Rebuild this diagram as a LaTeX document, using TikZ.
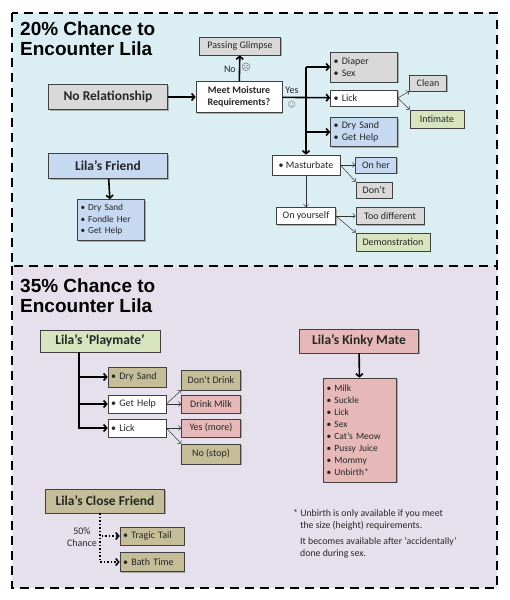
\documentclass[tikz,border=0pt]{standalone}
\usepackage{fontspec}
\setmainfont{Carlito}
\newfontfamily\titlefont{Liberation Sans}
\newfontfamily\symfont{DejaVu Sans}
\usetikzlibrary{arrows.meta,shadows}

\definecolor{topbg}{RGB}{219,238,244}
\definecolor{botbg}{RGB}{229,224,236}
\definecolor{grayb}{RGB}{217,217,217}
\definecolor{blueb}{RGB}{198,217,241}
\definecolor{greenb}{RGB}{215,228,189}
\definecolor{tanb}{RGB}{196,189,151}
\definecolor{pinkb}{RGB}{230,185,184}

\begin{document}
\begin{tikzpicture}[x=1pt,y=-1pt]
\tikzstyle{every node}+=[inner sep=3pt, text=black!85]
\tikzstyle{box}=[draw=black!75, line width=0.6pt, align=center,
  drop shadow={shadow xshift=1.3pt, shadow yshift=-1.3pt, fill=black!50, opacity=0.6},
  font=\fontsize{10}{12}\selectfont]
\tikzstyle{headbox}=[box, font=\fontsize{13.5}{15}\selectfont\bfseries]
\tikzstyle{listbox}=[box, align=left]
\tikzstyle{title}=[anchor=north west, align=left, inner sep=0pt, text=black,
  font=\titlefont\fontsize{19}{20}\selectfont\bfseries]
\tikzstyle{fat}=[line width=1.6pt, -{Straight Barb[length=3pt,width=7pt]}]
\tikzstyle{thinarrow}=[line width=0.5pt, black!80, -{Straight Barb[length=2.5pt,width=5pt]}]
\tikzstyle{dotarrow}=[line width=1.5pt, dotted, -{Straight Barb[length=3pt,width=7pt]}]
\tikzstyle{panel}=[line width=2.4pt, dash pattern=on 9pt off 6pt]
\useasboundingbox (0,0) rectangle (510,600);

% panels
\fill[topbg] (12,13) rectangle (497,266);
\fill[botbg] (12,266) rectangle (497,588);
\draw[panel] (12,13) rectangle (497,266);
\draw[panel] (12,266) -- (12,588) -- (497,588) -- (497,266);

% 20% chance
\node[title] (title1) at (20,22) {20\% Chance to\\Encounter Lila};
\node[box, fill=grayb, minimum width=81, minimum height=18] (glimpse) at (240,46) {Passing Glimpse};
\node[headbox, fill=grayb, minimum width=119, minimum height=25] (norel) at (108,97) {No Relationship};
\node[box, fill=white, font=\fontsize{10}{12.5}\selectfont\bfseries, minimum width=86, minimum height=31] (meet) at (239,97) {Meet Moisture\\Requirements?};
\node[listbox, fill=grayb, text width=61, minimum height=30] (diaper) at (364,67) {\textbullet\ Diaper\\\textbullet\ Sex};
\node[listbox, fill=white, text width=61, minimum height=16] (lick) at (364,98) {\textbullet\ Lick};
\node[listbox, fill=blueb, text width=61, minimum height=29] (drysand) at (364,132) {\textbullet\ Dry Sand\\\textbullet\ Get Help};
\node[box, fill=grayb, minimum width=37, minimum height=16] (clean) at (428,83) {Clean};
\node[box, fill=greenb, minimum width=54, minimum height=18] (intimate) at (437,119) {Intimate};
\node[box, fill=white, minimum width=68, minimum height=20] (mast) at (306,165) {\textbullet\ Masturbate};
\node[box, fill=blueb, minimum width=41, minimum height=16] (onher) at (376,165) {On her};
\node[box, fill=grayb, minimum width=36, minimum height=16] (dont) at (374,190) {Don't};
\node[box, fill=white, minimum width=59, minimum height=17] (onyou) at (306,216) {On yourself};
\node[box, fill=grayb, minimum width=68, minimum height=17] (toodiff) at (390,216) {Too different};
\node[box, fill=greenb, minimum width=74, minimum height=18] (demo) at (393,242) {Demonstration};
\node[headbox, fill=blueb, minimum width=119, minimum height=25] (friend) at (108,166) {Lila's Friend};
\node[listbox, fill=blueb, text width=61, minimum height=41, font=\fontsize{9.3}{11.5}\selectfont] (friendlist) at (111,220) {\textbullet\ Dry Sand\\\textbullet\ Fondle Her\\\textbullet\ Get Help};

\coordinate (split) at (306,97);
\draw[fat] (norel) -- (meet);
\draw[fat] (meet) -- (glimpse) node[pos=0.45, left, font=\fontsize{10}{12}\selectfont] (no) {No} node[pos=0.55, right, inner sep=1pt, text=black!60, font=\symfont\fontsize{9}{10}\selectfont] (sad) {☹};
\draw[fat] (meet) -- (lick) node[pos=0.2, above, font=\fontsize{10}{12}\selectfont] (yes) {Yes} node[pos=0.2, below, text=black!50, font=\symfont\fontsize{8}{9}\selectfont] (happy) {☺};
\draw[line width=1.6pt] (split |- diaper.west) -- (split);
\draw[fat] (split |- diaper.west) -- (diaper);
\draw[fat] (split |- drysand.west) -- (drysand);
\draw[fat] (split) -- (mast);
\draw[thinarrow] (lick.east) -- (clean.south west);
\draw[thinarrow] (lick.east) -- (intimate.north west);
\draw[thinarrow] (mast) -- (onher);
\draw[thinarrow] (mast.east) -- (dont.north west);
\draw[thinarrow] (mast) -- (onyou);
\draw[thinarrow] (onyou) -- (toodiff);
\draw[thinarrow] (onyou.east) -- (demo.north west);
\draw[fat] (friend) -- (friendlist);

% 35% chance
\node[title] (title2) at (20,279) {35\% Chance to\\Encounter Lila};
\node[headbox, fill=greenb, minimum width=120, minimum height=22] (playmate) at (100,341) {Lila's `Playmate'};
\node[listbox, fill=tanb, text width=52, minimum height=20] (pdry) at (137,377) {\textbullet\ Dry Sand};
\node[listbox, fill=white, text width=52, minimum height=18] (phelp) at (137,404) {\textbullet\ Get Help};
\node[listbox, fill=white, text width=52, minimum height=18] (plick) at (137,428) {\textbullet\ Lick};
\node[box, fill=tanb, minimum width=59, minimum height=20] (nodrink) at (211,380) {Don't Drink};
\node[box, fill=pinkb, minimum width=59, minimum height=18] (milk) at (211,404) {Drink Milk};
\node[box, fill=pinkb, minimum width=59, minimum height=18] (yesmore) at (211,428) {Yes (more)};
\node[box, fill=tanb, minimum width=59, minimum height=20] (nostop) at (211,454) {No (stop)};
\node[headbox, fill=pinkb, minimum width=119, minimum height=24] (kinky) at (359,341) {Lila's Kinky Mate};
\node[listbox, fill=pinkb, text width=67, minimum height=104, font=\fontsize{9.5}{12}\selectfont] (kinkylist) at (360,430) {\textbullet\ Milk\\\textbullet\ Suckle\\\textbullet\ Lick\\\textbullet\ Sex\\\textbullet\ Cat's Meow\\\textbullet\ Pussy Juice\\\textbullet\ Mommy\\\textbullet\ Unbirth*};
\node[headbox, fill=tanb, minimum width=119, minimum height=24] (close) at (105,501) {Lila's Close Friend};
\node[listbox, fill=tanb, text width=58, minimum height=18] (tragic) at (152,536) {\textbullet\ Tragic Tail};
\node[listbox, fill=tanb, text width=58, minimum height=19] (bath) at (152,562) {\textbullet\ Bath Time};
\node[align=center, font=\fontsize{10}{12.5}\selectfont] (chance) at (82,537) {50\%\\Chance};
\node[anchor=north west, align=left, font=\fontsize{9.8}{12.5}\selectfont] (note1) at (290,506) {* Unbirth is only available if you meet\\\phantom{* }the size (height) requirements.};
\node[anchor=north west, align=left, font=\fontsize{9.8}{12.5}\selectfont] (note2) at (297,534) {It becomes available after `accidentally'\\done during sex.};

\coordinate (ptrunk) at ([xshift=-21pt]playmate.south);
\draw[fat] (ptrunk) |- (pdry);
\draw[fat] (ptrunk) |- (phelp);
\draw[fat] (ptrunk) |- (plick);
\draw[thinarrow] (phelp.east) -- (nodrink.south west);
\draw[thinarrow] (phelp) -- (milk);
\draw[thinarrow] (plick) -- (yesmore);
\draw[thinarrow] (plick.east) -- (nostop.north west);
\draw[fat] (kinky) -- (kinkylist);
\coordinate (ctrunk) at ([xshift=-5pt]close.south);
\draw[dotarrow] (ctrunk) |- (tragic);
\draw[dotarrow] (ctrunk) |- (bath);
\end{tikzpicture}
\end{document}
